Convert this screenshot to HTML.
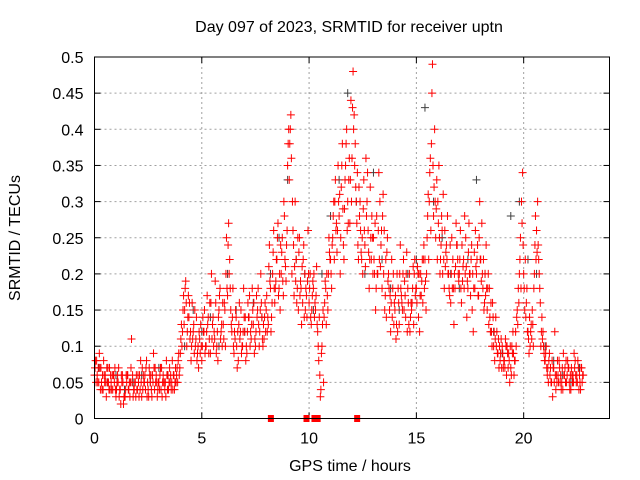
<!DOCTYPE html>
<html><head><meta charset="utf-8"><style>
html,body{margin:0;padding:0;background:#fff;}
svg{display:block;font-family:"Liberation Sans",sans-serif;}
</style></head><body>
<svg id="chart" width="640" height="480" viewBox="0 0 640 480">
<text x="349" y="32" font-size="16" text-anchor="middle" fill="#000">Day 097 of 2023, SRMTID for receiver uptn</text>
<text x="0" y="0" font-size="16" text-anchor="middle" transform="translate(20,238) rotate(-90)">SRMTID / TECUs</text>
<text x="350" y="471" font-size="16" text-anchor="middle">GPS time / hours</text>
<g id="grid"></g>
<g id="ticks"></g>
<g id="marks"></g>
<rect x="94.5" y="57" width="515" height="361.5" fill="none" stroke="#000" stroke-width="1"/>
</svg>
<script>
const xTicks=[0,5,10,15,20];
const yTicks=[0,0.05,0.1,0.15,0.2,0.25,0.3,0.35,0.4,0.45,0.5];
const yTickLabels=["0","0.05","0.1","0.15","0.2","0.25","0.3","0.35","0.4","0.45","0.5"];
const stepA=0.1;
const redA=[0.06,0.08,0.05,0.07,0.04,0.06,0.05,0.07,0.04,0.06,
0.03,0.05,0.04,0.06,0.03,0.05,0.04,0.07,0.03,0.05,
0.04,0.06,0.03,0.05,0.07,0.04,0.05,0.06,0.04,0.05,
0.05,0.04,0.06,0.05,0.04,0.07,0.05,0.06,0.05,0.08,
0.09,0.12,0.15,0.1,0.14,0.08,0.12,0.1,0.09,0.11,
0.08,0.12,0.1,0.14,0.09,0.13,0.11,0.1,0.15,0.12,
0.13,0.1,0.17,0.22,0.12,0.09,0.14,0.08,0.12,0.1,
0.12,0.09,0.14,0.11,0.13,0.1,0.15,0.12,0.14,0.11,
0.15,0.13,0.18,0.2,0.16,0.22,0.18,0.2,0.17,0.21,
0.35,0.38,0.2,0.17,0.22,0.15,0.19,0.16,0.2,0.14,
0.16,0.13,0.18,0.15,0.12,0.06,0.1,0.14,0.13,0.2,
0.22,0.25,0.3,0.23,0.28,0.32,0.24,0.35,0.3,0.27,
0.36,0.42,0.3,0.22,0.26,0.2,0.24,0.3,0.18,0.22,
0.25,0.15,0.2,0.3,0.18,0.26,0.14,0.2,0.12,0.18,
0.15,0.2,0.13,0.17,0.22,0.14,0.18,0.12,0.16,0.2,
0.18,0.14,0.2,0.16,0.22,0.25,0.3,0.38,0.28,0.25,
0.3,0.2,0.26,0.18,0.24,0.2,0.16,0.22,0.18,0.24,
0.2,0.16,0.22,0.25,0.18,0.2,0.15,0.23,0.2,0.17,
0.22,0.18,0.2,0.15,0.18,0.12,0.1,0.14,0.09,0.08,
0.1,0.08,0.06,0.09,0.07,0.12,0.08,0.15,0.2,0.3,
0.2,0.14,0.12,0.1,0.15,0.2,0.26,0.22,0.1,0.12,
0.08,0.06,0.09,0.05,0.07,0.04,0.06,0.05,0.07,0.06,
0.05,0.07,0.04,0.06,0.08,0.05,0.06,0.07];
const redB=[0.08,0.05,0.07,0.04,0.06,0.03,0.05,0.06,0.04,0.07,
0.05,0.03,0.06,0.02,0.04,0.06,0.03,0.05,0.04,0.06,
0.05,0.08,0.04,0.06,0.03,0.07,0.04,0.09,0.05,0.04,
0.06,0.03,0.05,0.08,0.04,0.06,0.04,0.05,0.07,0.06,
0.13,0.17,0.19,0.14,0.11,0.16,0.09,0.14,0.07,0.13,
0.14,0.09,0.17,0.11,0.2,0.1,0.16,0.08,0.18,0.1,
0.16,0.25,0.27,0.15,0.18,0.11,0.07,0.16,0.09,0.18,
0.08,0.16,0.1,0.18,0.09,0.17,0.13,0.2,0.1,0.16,
0.12,0.24,0.14,0.26,0.19,0.27,0.15,0.25,0.28,0.24,
0.4,0.42,0.26,0.3,0.18,0.25,0.13,0.24,0.18,0.26,
0.2,0.17,0.14,0.21,0.08,0.04,0.15,0.19,0.17,0.23,
0.18,0.3,0.26,0.35,0.2,0.38,0.29,0.4,0.33,0.44,
0.48,0.38,0.34,0.28,0.22,0.33,0.36,0.26,0.32,0.25,
0.2,0.28,0.34,0.24,0.31,0.17,0.25,0.15,0.22,0.13,
0.11,0.18,0.24,0.15,0.19,0.23,0.13,0.16,0.21,0.17,
0.21,0.12,0.19,0.24,0.15,0.31,0.36,0.49,0.4,0.33,
0.35,0.24,0.31,0.21,0.28,0.17,0.25,0.13,0.27,0.2,
0.26,0.19,0.28,0.14,0.27,0.22,0.12,0.26,0.24,0.3,
0.27,0.15,0.24,0.2,0.12,0.16,0.08,0.12,0.07,0.11,
0.07,0.11,0.09,0.05,0.1,0.06,0.1,0.18,0.25,0.34,
0.15,0.18,0.09,0.13,0.1,0.28,0.3,0.18,0.14,0.09,
0.1,0.05,0.07,0.03,0.12,0.05,0.08,0.04,0.09,0.05,
0.08,0.04,0.06,0.09,0.05,0.07,0.04,0.06];
const redC=[0.07,0.06,0.09,0.05,0.08,0.05,0.07,0.04,0.06,0.05,
0.04,0.07,0.02,0.05,0.03,0.06,0.05,0.11,0.04,0.03,
0.06,0.04,0.07,0.05,0.08,0.03,0.06,0.05,0.07,0.03,
0.04,0.07,0.05,0.03,0.06,0.05,0.08,0.04,0.06,0.09,
0.11,0.15,0.18,0.12,0.16,0.1,0.13,0.11,0.1,0.09,
0.1,0.15,0.12,0.09,0.16,0.14,0.19,0.12,0.17,0.13,
0.11,0.2,0.24,0.18,0.14,0.12,0.1,0.13,0.15,0.12,
0.14,0.12,0.17,0.13,0.16,0.12,0.18,0.15,0.11,0.14,
0.17,0.21,0.12,0.23,0.18,0.25,0.2,0.23,0.3,0.19,
0.38,0.4,0.3,0.21,0.16,0.23,0.18,0.22,0.15,0.19,
0.18,0.15,0.2,0.17,0.1,0.03,0.13,0.16,0.2,0.25,
0.2,0.28,0.33,0.26,0.31,0.35,0.22,0.38,0.27,0.33,
0.43,0.35,0.27,0.32,0.23,0.29,0.21,0.34,0.22,0.28,
0.22,0.18,0.26,0.21,0.28,0.15,0.23,0.18,0.16,0.2,
0.17,0.12,0.2,0.16,0.15,0.2,0.16,0.14,0.18,0.22,
0.16,0.2,0.17,0.22,0.19,0.28,0.34,0.45,0.32,0.29,
0.27,0.22,0.2,0.26,0.22,0.18,0.2,0.18,0.21,0.22,
0.22,0.24,0.18,0.21,0.23,0.17,0.2,0.18,0.22,0.25,
0.19,0.22,0.17,0.18,0.14,0.1,0.12,0.1,0.11,0.09,
0.09,0.07,0.1,0.08,0.06,0.09,0.12,0.13,0.22,0.27,
0.18,0.16,0.11,0.12,0.13,0.24,0.23,0.2,0.12,0.1,
0.09,0.07,0.06,0.08,0.05,0.06,0.05,0.06,0.04,0.07,
0.06,0.05,0.07,0.05,0.06,0.08,0.05,0.05];
const redD=[0.05,0.07,0.04,0.06,0.05,0.07,0.04,0.05,0.06,0.04,
0.06,0.04,0.05,0.03,0.06,0.04,0.05,0.06,0.05,0.04,
0.03,0.05,0.06,0.04,0.05,0.06,0.03,0.07,0.06,0.05,
0.07,0.05,0.04,0.06,0.05,0.04,0.06,0.07,0.05,0.07,
0.1,0.13,0.16,0.17,0.12,0.11,0.15,0.08,0.12,0.1,
0.12,0.1,0.13,0.16,0.11,0.12,0.09,0.14,0.11,0.16,
0.15,0.18,0.2,0.13,0.1,0.15,0.12,0.11,0.1,0.14,
0.1,0.14,0.12,0.15,0.11,0.14,0.1,0.16,0.13,0.12,
0.14,0.19,0.16,0.18,0.22,0.17,0.24,0.19,0.22,0.26,
0.33,0.36,0.24,0.19,0.25,0.17,0.21,0.14,0.17,0.2,
0.14,0.19,0.16,0.13,0.14,0.09,0.05,0.18,0.15,0.22,
0.24,0.22,0.27,0.3,0.25,0.29,0.33,0.26,0.36,0.3,
0.4,0.32,0.24,0.3,0.25,0.26,0.28,0.23,0.25,0.2,
0.27,0.2,0.22,0.26,0.2,0.22,0.19,0.17,0.14,0.16,
0.13,0.16,0.18,0.2,0.17,0.12,0.2,0.15,0.13,0.18,
0.2,0.17,0.22,0.18,0.2,0.22,0.26,0.35,0.3,0.22,
0.25,0.28,0.22,0.23,0.2,0.24,0.18,0.2,0.24,0.19,
0.18,0.21,0.2,0.19,0.2,0.24,0.18,0.21,0.17,0.22,
0.2,0.16,0.18,0.13,0.16,0.14,0.11,0.09,0.1,0.07,
0.08,0.1,0.07,0.1,0.09,0.08,0.14,0.16,0.18,0.24,
0.22,0.12,0.14,0.11,0.18,0.22,0.24,0.16,0.11,0.08,
0.07,0.08,0.05,0.07,0.06,0.08,0.07,0.05,0.06,0.08,
0.07,0.06,0.05,0.07,0.06,0.04,0.07,0.06];
const stepGray=0.4;
const grayVals=[0.07,0.05,0.06,0.04,0.05,0.06,0.05,0.07,0.06,0.05,
0.1,0.15,0.12,0.14,0.1,0.2,0.15,0.12,0.16,0.14,
0.2,0.25,0.33,0.22,0.2,0.15,0.2,0.28,0.33,0.45,
0.3,0.2,0.34,0.22,0.18,0.15,0.2,0.22,0.43,0.3,
0.25,0.2,0.18,0.22,0.33,0.2,0.12,0.09,0.28,0.3,
0.22,0.2,0.1,0.08,0.06,0.05,0.07];
const flagTimes=[8.22,9.88,10.25,10.4,12.24];
const flagVals=[0,0,0,0,0];

const NS="http://www.w3.org/2000/svg";
const X0=94.5,X1=609.5,Y0=418.5,Y1=57;
function xs(t){return X0+(t/24)*(X1-X0);}
function ys(v){return Y0-(v/0.5)*(Y0-Y1);}
function mk(tag,attrs,parent){const e=document.createElementNS(NS,tag);for(const k in attrs)e.setAttribute(k,attrs[k]);parent.appendChild(e);return e;}
const grid=document.getElementById('grid'),ticks=document.getElementById('ticks'),marks=document.getElementById('marks');
xTicks.forEach(function(t){
  const x=xs(t);
  if(t>0){const g=mk('line',{x1:x,x2:x,y1:Y1,y2:Y0,stroke:'#a0a0a0','stroke-dasharray':'2,3'},grid);
  
  }
  mk('line',{x1:x,x2:x,y1:Y0,y2:Y0-6,stroke:'#000'},ticks);
  mk('line',{x1:x,x2:x,y1:Y1,y2:Y1+6,stroke:'#000'},ticks);
  const l=mk('text',{x:x,y:Y0+25,'font-size':16,'text-anchor':'middle'},ticks);
  l.textContent=String(t);
  
  
});
yTicks.forEach(function(v,i){
  const y=ys(v);
  if(v>0&&v<0.5){const g=mk('line',{x1:X0,x2:X1,y1:y,y2:y,stroke:'#a0a0a0','stroke-dasharray':'2,3'},grid);
  
  }
  mk('line',{x1:X0,x2:X0+6,y1:y,y2:y,stroke:'#000'},ticks);
  mk('line',{x1:X1,x2:X1-6,y1:y,y2:y,stroke:'#000'},ticks);
  const l=mk('text',{x:X0-11,y:y+6,'font-size':16,'text-anchor':'end'},ticks);
  l.textContent=yTickLabels[i];
  
  
});
function plus(t,v,color,name){
  const x=xs(t),y=ys(v);
  const p=mk('path',{d:'M'+(x-4)+' '+y+'H'+(x+4)+'M'+x+' '+(y-4)+'V'+(y+4),stroke:color,'stroke-width':1,fill:'none'},marks);
  
  
}
grayVals.forEach(function(v,i){plus(i*stepGray+0.2,v,'#404040','gray-point');});
redA.forEach(function(v,i){plus(i*stepA,v,'#ff0000','red-point');});
redC.forEach(function(v,i){plus(i*stepA+0.025,v,'#ff0000','red-point');});
redB.forEach(function(v,i){plus(i*stepA+0.05,v,'#ff0000','red-point');});
redD.forEach(function(v,i){plus(i*stepA+0.075,v,'#ff0000','red-point');});
flagTimes.forEach(function(t,i){
  const r=mk('rect',{x:xs(t)-3,y:ys(flagVals[i])-3.5,width:6,height:7,fill:'#ff0000'},marks);
  
  
});
</script>
</body></html>
